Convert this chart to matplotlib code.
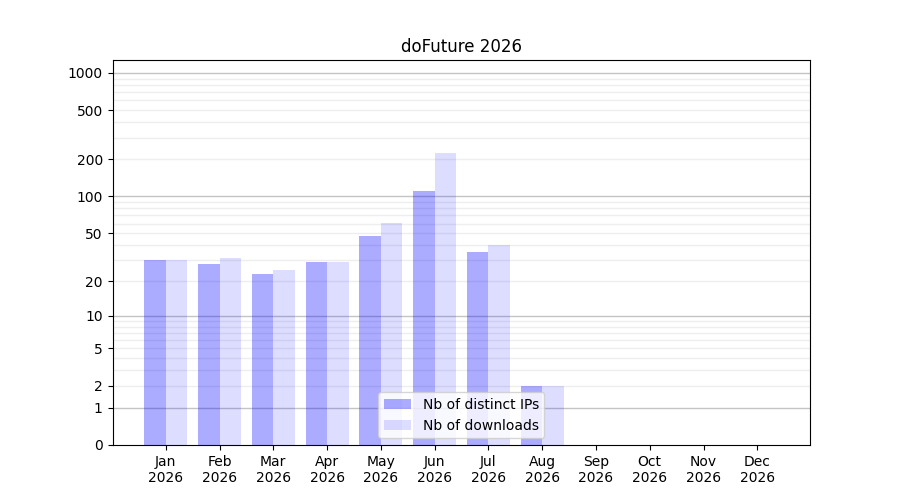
import numpy as np
import matplotlib
matplotlib.use("Agg")
import matplotlib.pyplot as plt
from matplotlib.ticker import FixedLocator, NullFormatter

months = ["Jan", "Feb", "Mar", "Apr", "May", "Jun", "Jul", "Aug", "Sep", "Oct", "Nov", "Dec"]
year = "2026"
distinct_ips = [30, 28, 23, 29, 47, 110, 35, 2, 0, 0, 0, 0]
downloads = [30, 31, 25, 29, 61, 225, 40, 2, 0, 0, 0, 0]
ytick_values = [0, 1, 2, 5, 10, 20, 50, 100, 200, 500, 1000]

fig = plt.figure(figsize=(9, 5), dpi=100)
ax = fig.add_axes([0.125, 0.11, 0.775, 0.77])

fwd = lambda v: np.log10(1 + np.clip(v, -0.999999, None))
inv = lambda v: 10 ** v - 1
ax.set_yscale("function", functions=(fwd, inv))

x = np.arange(len(months))
w = 0.4
ax.bar(x - w / 2, distinct_ips, width=w, color="blue", alpha=0.33, label="Nb of distinct IPs", zorder=2)
ax.bar(x + w / 2, downloads, width=w, color="blue", alpha=0.135, label="Nb of downloads", zorder=2)

ax.set_ylim(0, 1270)
ax.set_xlim(-0.99, 11.98)

ax.yaxis.set_major_locator(FixedLocator(ytick_values))
ax.set_yticklabels([str(v) for v in ytick_values])
minor = []
for dec in [1, 10, 100, 1000]:
    for m in range(1, 10):
        v = dec * m
        if v <= 1270:
            minor.append(v)
ax.yaxis.set_minor_locator(FixedLocator(minor))
ax.yaxis.set_minor_formatter(NullFormatter())
ax.tick_params(axis="y", which="minor", length=0)

for v in minor:
    if v in (1, 10, 100, 1000):
        ax.axhline(v, color="#c4c4c4", linewidth=1.0, zorder=1)
    else:
        ax.axhline(v, color="#eeeeee", linewidth=1.0, zorder=1)

ax.set_xticks(x)
ax.set_xticklabels([f"{m}\n{year}" for m in months])
ax.set_title("doFuture 2026")
ax.legend(loc="lower center")

fig.savefig("out.png", dpi=100)
